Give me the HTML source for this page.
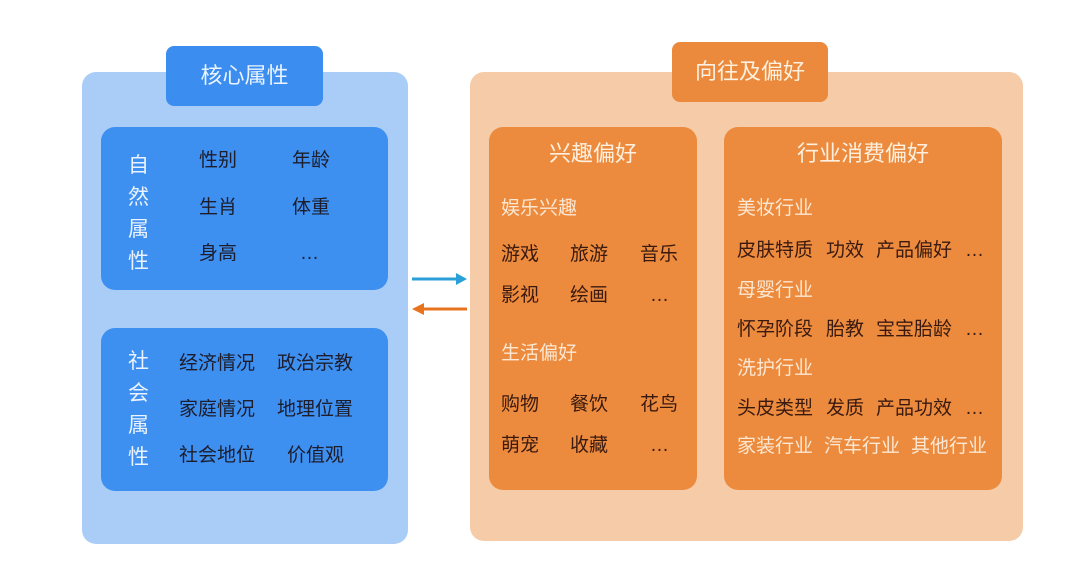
<!DOCTYPE html>
<html><head><meta charset="utf-8"><style>
body{margin:0;width:1080px;height:579px;background:#fff;position:relative;overflow:hidden;font-family:"Liberation Sans","Noto Sans CJK SC",sans-serif}
div{position:absolute;box-sizing:border-box}
.t{font-size:19px;line-height:20px;white-space:nowrap;color:#1d1d2b}
.o{color:#3a1a10}
.w{color:#fbe7d2}
.h{font-size:22px;line-height:24px;color:#fdf0e0;white-space:nowrap}
</style></head><body>
<div style="left:82px;top:72px;width:326px;height:472px;background:#a9cdf6;border-radius:14px"></div>
<div style="left:166px;top:46px;width:157px;height:60px;background:#3b8ef0;border-radius:8px"></div>
<div class="h" style="left:166px;top:64px;width:157px;text-align:center;color:#eaf3ff">核心属性</div>
<div style="left:101px;top:127px;width:287px;height:163px;background:#3d8ff0;border-radius:14px"></div>
<div style="left:101px;top:328px;width:287px;height:163px;background:#3d8ff0;border-radius:14px"></div>
<div class="t" style="left:128px;top:150px;color:#eaf3ff;font-size:21px;line-height:32px;width:24px;white-space:normal">自然属性</div>
<div class="t" style="left:128px;top:346px;color:#eaf3ff;font-size:21px;line-height:32px;width:24px;white-space:normal">社会属性</div>
<div class="t" style="left:199px;top:151px">性别</div><div class="t" style="left:292px;top:151px">年龄</div>
<div class="t" style="left:199px;top:198px">生肖</div><div class="t" style="left:292px;top:198px">体重</div>
<div class="t" style="left:199px;top:244px">身高</div><div class="t" style="left:300px;top:244px">…</div>
<div class="t" style="left:179px;top:354px">经济情况</div><div class="t" style="left:277px;top:354px">政治宗教</div>
<div class="t" style="left:179px;top:400px">家庭情况</div><div class="t" style="left:277px;top:400px">地理位置</div>
<div class="t" style="left:179px;top:446px">社会地位</div><div class="t" style="left:287px;top:446px">价值观</div>
<svg style="position:absolute;left:0;top:0" width="1080" height="579">
<line x1="412" y1="279" x2="458" y2="279" stroke="#2b9fd8" stroke-width="3"/><polygon points="456,273 467,279 456,285" fill="#2b9fd8"/>
<line x1="422" y1="309" x2="467" y2="309" stroke="#e8731f" stroke-width="3"/><polygon points="424,303 412,309 424,315" fill="#e8731f"/>
</svg>
<div style="left:470px;top:72px;width:553px;height:469px;background:#f6cba7;border-radius:14px"></div>
<div style="left:672px;top:42px;width:156px;height:60px;background:#eb8a3c;border-radius:8px"></div>
<div class="h" style="left:672px;top:60px;width:156px;text-align:center">向往及偏好</div>
<div style="left:489px;top:127px;width:208px;height:363px;background:#ec8b3d;border-radius:14px"></div>
<div style="left:724px;top:127px;width:278px;height:363px;background:#ec8b3d;border-radius:14px"></div>
<div class="h" style="left:489px;top:142px;width:208px;text-align:center">兴趣偏好</div>
<div class="h" style="left:724px;top:142px;width:278px;text-align:center">行业消费偏好</div>
<div class="t w" style="left:501px;top:199px">娱乐兴趣</div>
<div class="t o" style="left:501px;top:245px">游戏</div><div class="t o" style="left:570px;top:245px">旅游</div><div class="t o" style="left:640px;top:245px">音乐</div>
<div class="t o" style="left:501px;top:286px">影视</div><div class="t o" style="left:570px;top:286px">绘画</div><div class="t o" style="left:650px;top:286px">…</div>
<div class="t w" style="left:501px;top:344px">生活偏好</div>
<div class="t o" style="left:501px;top:395px">购物</div><div class="t o" style="left:570px;top:395px">餐饮</div><div class="t o" style="left:640px;top:395px">花鸟</div>
<div class="t o" style="left:501px;top:436px">萌宠</div><div class="t o" style="left:570px;top:436px">收藏</div><div class="t o" style="left:650px;top:436px">…</div>
<div class="t w" style="left:737px;top:199px">美妆行业</div>
<div class="t o" style="left:737px;top:241px">皮肤特质</div><div class="t o" style="left:826px;top:241px">功效</div><div class="t o" style="left:876px;top:241px">产品偏好</div><div class="t o" style="left:965px;top:241px">…</div>
<div class="t w" style="left:737px;top:281px">母婴行业</div>
<div class="t o" style="left:737px;top:320px">怀孕阶段</div><div class="t o" style="left:826px;top:320px">胎教</div><div class="t o" style="left:876px;top:320px">宝宝胎龄</div><div class="t o" style="left:965px;top:320px">…</div>
<div class="t w" style="left:737px;top:359px">洗护行业</div>
<div class="t o" style="left:737px;top:399px">头皮类型</div><div class="t o" style="left:826px;top:399px">发质</div><div class="t o" style="left:876px;top:399px">产品功效</div><div class="t o" style="left:965px;top:399px">…</div>
<div class="t w" style="left:737px;top:437px">家装行业</div><div class="t w" style="left:824px;top:437px">汽车行业</div><div class="t w" style="left:911px;top:437px">其他行业</div>
</body></html>
